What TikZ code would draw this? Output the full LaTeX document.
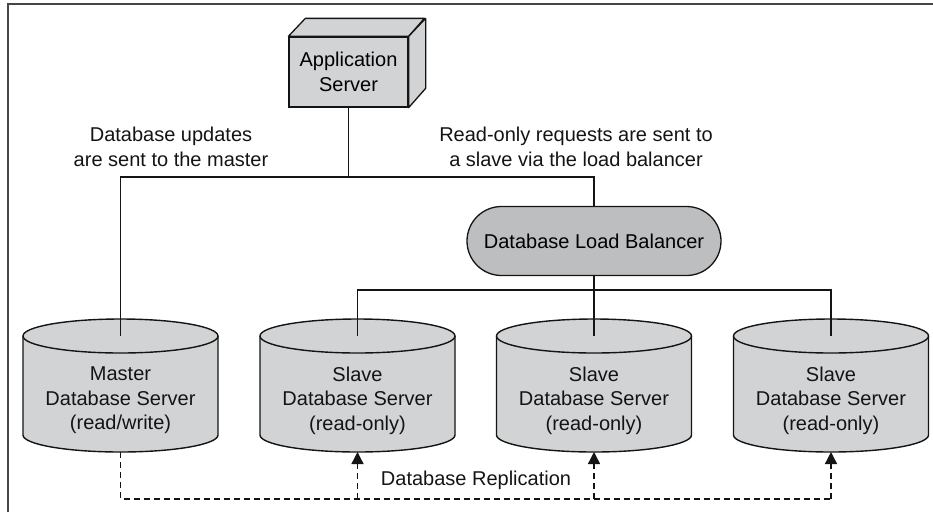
\documentclass[tikz,border=0pt]{standalone}
\usepackage{fontspec}
\setmainfont{Liberation Sans}
\usetikzlibrary{arrows.meta,positioning,shapes.geometric,shapes.misc,calc}
\definecolor{boxgray}{RGB}{210,211,213}
\definecolor{lbgray}{RGB}{189,190,192}
\definecolor{framegray}{RGB}{70,70,70}
\definecolor{ink}{RGB}{20,20,20}
\tikzset{
  >={Triangle[length=12pt,width=12pt]},
  appbox/.style={draw=ink,fill=boxgray,line width=1.3pt,minimum width=119pt,
    minimum height=70pt,align=center,inner sep=0pt},
  balancer/.style={rounded rectangle,draw=ink,fill=lbgray,line width=1.3pt,
    minimum width=254pt,minimum height=69pt,inner sep=0pt},
  % body of a database drum, between the centres of its two ellipses
  server/.style={minimum width=195pt,minimum height=99pt,inner sep=0pt,outer sep=0pt},
  drumcap/.style={x radius=97.5pt,y radius=17pt},
  note/.style={align=center,text=ink},
  wire/.style={draw=ink,line width=1.4pt},
  repl/.style={draw=ink,line width=1.4pt,dash pattern=on 6pt off 4pt},
}
% drum outline round a server node
\newcommand\drum[1]{%
  \draw[wire,fill=boxgray] (#1.north west) -- (#1.south west)
    arc[drumcap,start angle=180,end angle=360] -- (#1.north east)
    arc[drumcap,start angle=0,end angle=180] -- cycle;
  \draw[wire] (#1.north west) arc[drumcap,start angle=180,end angle=360];
}
\begin{document}
\begin{tikzpicture}[x=1pt,y=-1pt,font=\fontsize{20}{24.5}\selectfont]
  \useasboundingbox (0,0) rectangle (933,512);
  % frame
  \draw[framegray,line width=2pt] (8,512) -- (8,4) -- (933,4);

  % application server
  \node[appbox] (app) at (348.5,72) {Application\\Server};
  \draw[wire,line width=1.3pt,fill=boxgray,line join=round] (app.north west) -- ++(17,-18) -- ++(119,0) -- (app.north east) -- cycle;
  \draw[wire,line width=1.3pt,fill=boxgray,line join=round] (app.north east) -- ++(17,-18) -- ++(0,70) -- (app.south east) -- cycle;

  \node[balancer] (lb) at (594,241) {Database Load Balancer};

  % database servers
  \node[server] (master) at (120.5,385.5) {};
  \drum{master}
  \node[note] (master text) at ([yshift=-15pt]master.center) {Master\\Database Server\\(read/write)};
  \foreach \x [count=\i] in {357.5,594,831}{
    \node[server] (slave\i) at (\x,385.5) {};
    \drum{slave\i}
    \node[note] (slave\i text) at ([yshift=-15pt]slave\i.center) {Slave\\Database Server\\(read-only)};
  }

  \node[note] (upd) at (171,147) {Database updates\\are sent to the master};
  \node[note] (ro) at (576,147) {Read-only requests are sent to\\a slave via the load balancer};

  % requests
  \coordinate (bus) at (app.south |- 0,177);
  \draw[wire] (app.south) -- (bus);
  \draw[wire] (bus) -| (master.north);
  \draw[wire] (bus) -| (lb.north);
  \coordinate (fan) at (lb.south |- 0,290);
  \draw[wire] (lb.south) -- (fan);
  \foreach \i in {1,2,3}
    \draw[wire] (fan) -| (slave\i.north);

  % replication
  \coordinate (rep) at (master.south |- 0,499);
  \draw[repl] ([yshift=-17pt]master.south) -- (rep) -- (rep -| slave3.south);
  \foreach \i in {1,2,3}
    \draw[repl,->] (rep -| slave\i.south) -- ([yshift=-17pt]slave\i.south);
  \node[note] (replabel) at (476,480) {Database Replication};
\end{tikzpicture}
\end{document}
